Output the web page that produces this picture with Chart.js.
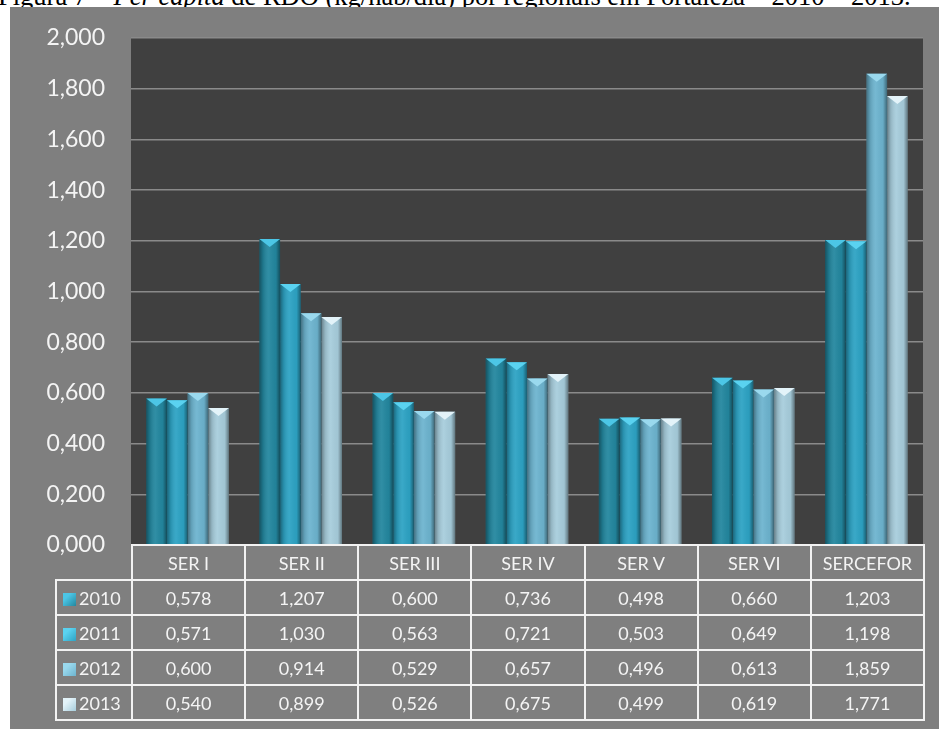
<!DOCTYPE html>
<html>
<head>
<meta charset="utf-8">
<script src="https://cdn.jsdelivr.net/npm/chart.js@4.4.1/dist/chart.umd.min.js"></script>
<style>
  html, body { margin: 0; padding: 0; background: #fff; }
  body { width: 939px; height: 729px; position: relative; overflow: hidden; font-family: Lato, "Open Sans", sans-serif; }
  #caption {
    position: absolute; left: 0; top: 0; width: 939px; height: 7px; overflow: hidden; background: #fff;
  }
  #caption span {
    position: absolute; left: -2px; top: -17px; white-space: nowrap;
    font-family: "Liberation Serif", "Times New Roman", serif; font-size: 26.5px; line-height: 27px; color: #000;
  }
  #panel { position: absolute; left: 10px; top: 7px; width: 929px; height: 722px; background: #7f7f7f; }
  #panel canvas { position: absolute; left: 0; top: 0; }
  #dataTable {
    position: absolute; border-collapse: collapse; table-layout: fixed; color: #f4f4f4; font-size: 18px;
  }
  #dataTable td { border: 2px solid #f2f2f2; text-align: center; padding: 0; height: 33px; }
  #dataTable td.blank { border: none; }
  #dataTable td.year { text-align: left; padding-left: 6px; }
  .swatch {
    display: inline-block; width: 13px; height: 13px; margin-right: 3px; vertical-align: -1px;
  }
</style>
</head>
<body>
<div id="caption"><span>Figura 7 – <i>Per capita</i> de RDO (kg/hab/dia) por regionais em Fortaleza – 2010 – 2013.</span></div>
<div id="panel">
  <canvas id="rdoChart" width="929" height="722"></canvas>
  <table id="dataTable"></table>
</div>
<script>
const categories = ["SER I", "SER II", "SER III", "SER IV", "SER V", "SER VI", "SERCEFOR"];
const years = ["2010", "2011", "2012", "2013"];
const values2010 = [0.578, 1.207, 0.600, 0.736, 0.498, 0.660, 1.203];
const values2011 = [0.571, 1.030, 0.563, 0.721, 0.503, 0.649, 1.198];
const values2012 = [0.600, 0.914, 0.529, 0.657, 0.496, 0.613, 1.859];
const values2013 = [0.540, 0.899, 0.526, 0.675, 0.499, 0.619, 1.771];
const yTicks = [0, 0.2, 0.4, 0.6, 0.8, 1.0, 1.2, 1.4, 1.6, 1.8, 2.0];

const seriesValues = [values2010, values2011, values2012, values2013];
const barColors = ["#23879f", "#2da3c4", "#6db4cf", "#a7cddc"];
const capColors = ["#4cc6e6", "#5ad2f0", "#9ad9ee", "#e3f3f9"];

const fmt = (v) => v.toFixed(3).replace(".", ",");

// dark plot background behind grid and bars
const plotBackground = {
  id: "plotBackground",
  beforeDraw(chart) {
    const { ctx, chartArea } = chart;
    ctx.save();
    ctx.fillStyle = "#404040";
    ctx.fillRect(chartArea.left, chartArea.top, chartArea.right - chartArea.left, chartArea.bottom - chartArea.top);
    ctx.restore();
  },
};

// cylinder shading and the pointed cap on top of each bar
const barBevel = {
  id: "barBevel",
  afterDatasetsDraw(chart) {
    const ctx = chart.ctx;
    chart.data.datasets.forEach((ds, di) => {
      const meta = chart.getDatasetMeta(di);
      meta.data.forEach((el) => {
        const { x, y, width, base } = el.getProps(["x", "y", "width", "base"], true);
        const left = x - width / 2;
        ctx.save();
        const g = ctx.createLinearGradient(left, 0, left + width, 0);
        g.addColorStop(0, "rgba(0,0,0,0.38)");
        g.addColorStop(0.18, "rgba(0,0,0,0.12)");
        g.addColorStop(0.45, "rgba(255,255,255,0.06)");
        g.addColorStop(0.8, "rgba(0,0,0,0.04)");
        g.addColorStop(1, "rgba(0,0,0,0.42)");
        ctx.fillStyle = g;
        ctx.fillRect(left, y, width, base - y);

        ctx.beginPath();
        ctx.moveTo(left, y);
        ctx.lineTo(left + width, y);
        ctx.lineTo(x, y + 8);
        ctx.closePath();
        ctx.fillStyle = capColors[di];
        ctx.fill();
        ctx.restore();
      });
    });
  },
};

const chart = new Chart(document.getElementById("rdoChart"), {
  type: "bar",
  data: {
    labels: categories,
    datasets: years.map((year, i) => ({
      label: year,
      data: seriesValues[i],
      backgroundColor: barColors[i],
      borderWidth: 0,
      categoryPercentage: 0.73,
      barPercentage: 1.0,
    })),
  },
  options: {
    responsive: false,
    animation: false,
    layout: { padding: { left: 0, right: 16, top: 31, bottom: 184 } },
    plugins: { legend: { display: false }, tooltip: { enabled: false } },
    scales: {
      x: { display: false },
      y: {
        min: 0,
        max: 2,
        afterFit: (scale) => { scale.width = 121; },
        afterBuildTicks: (scale) => { scale.ticks = yTicks.map((v) => ({ value: v })); },
        border: { display: false },
        // invisible tick marks keep the labels clear of the plot area
        grid: { color: "#8a8a8a", lineWidth: 1.5, drawTicks: true, tickLength: 26, tickColor: "rgba(0,0,0,0)" },
        ticks: {
          color: "#f4f4f4",
          padding: 0,
          font: { family: "Lato", size: 23 },
          callback: (v) => fmt(v),
        },
      },
    },
  },
  plugins: [plotBackground, barBevel],
});

// data table under the chart, lined up with the category columns
function buildTable() {
  const area = chart.chartArea;
  const colW = (area.right - area.left) / categories.length;
  const legendW = 76;
  const table = document.getElementById("dataTable");
  table.style.left = (area.left - legendW) + "px";
  table.style.top = (area.bottom - 1) + "px";
  table.style.width = (legendW + colW * categories.length) + "px";

  let html = "<colgroup><col style='width:" + legendW + "px'>";
  categories.forEach(() => { html += "<col style='width:" + colW + "px'>"; });
  html += "</colgroup><tr><td class='blank'></td>";
  categories.forEach((c) => { html += "<td>" + c + "</td>"; });
  html += "</tr>";
  years.forEach((year, i) => {
    const sw = "background:linear-gradient(135deg," + capColors[i] + " 30%," + barColors[i] + ")";
    html += "<tr><td class='year'><span class='swatch' style='" + sw + "'></span>" + year + "</td>";
    seriesValues[i].forEach((v) => { html += "<td>" + fmt(v) + "</td>"; });
    html += "</tr>";
  });
  table.innerHTML = html;
}
buildTable();
</script>
</body>
</html>
